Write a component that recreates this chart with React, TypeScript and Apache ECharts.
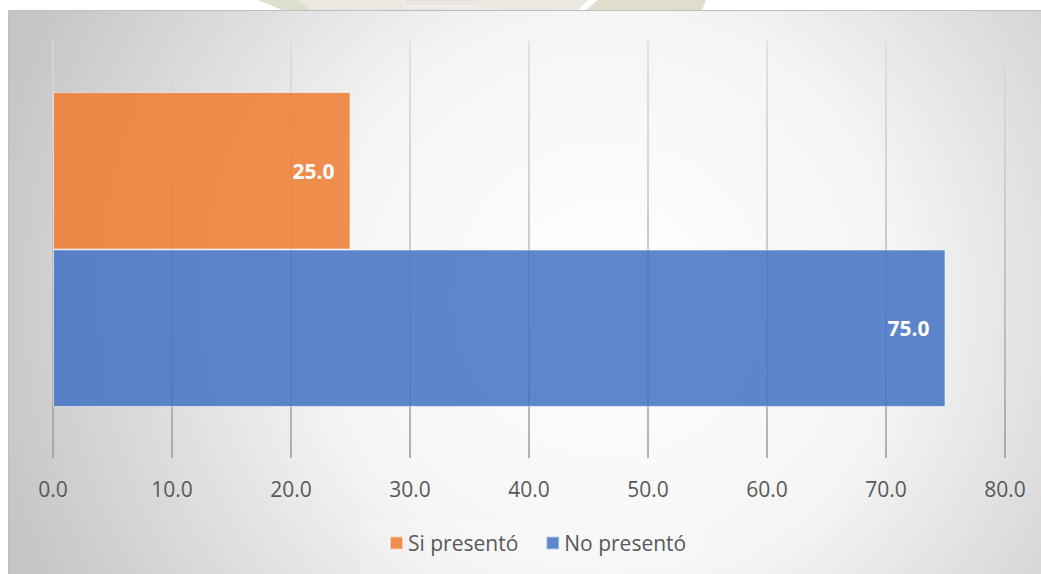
import React, { useEffect, useRef } from "react";
import * as echarts from "echarts";

// Single category, two series (percentages)
const categories = ["Total"];
const seriesNames = ["Si presentó", "No presentó"];
const siPresento = [25.0];
const noPresento = [75.0];
const xTicks = [0, 10, 20, 30, 40, 50, 60, 70, 80];

const FONT = "'Open Sans', 'DejaVu Sans', sans-serif";
const TEXT_GRAY = "#595959";

export default function App() {
  const ref = useRef<HTMLDivElement>(null);

  useEffect(() => {
    if (!ref.current) return;
    const chart = echarts.init(ref.current, undefined, { renderer: "svg" });

    const frameFill = new echarts.graphic.RadialGradient(
      610,
      300,
      640,
      [
        { offset: 0, color: "#FFFFFF" },
        { offset: 0.45, color: "#F5F5F5" },
        { offset: 1, color: "#C5C5C5" },
      ],
      true
    );

    const gridLineColor = new echarts.graphic.LinearGradient(
      0,
      41,
      0,
      458,
      [
        { offset: 0, color: "#DCDCDC" },
        { offset: 1, color: "#999999" },
      ],
      true
    );

    const option: echarts.EChartsOption = {
      animation: false,
      backgroundColor: "#FFFFFF",
      textStyle: { fontFamily: FONT },
      graphic: [
        // faint emblem peeking out above the frame
        {
          type: "polygon",
          z: -30,
          silent: true,
          shape: { points: [[258, 0], [298, 0], [312, 10], [282, 10]] },
          style: { fill: "#DEDECF" },
        },
        {
          type: "polygon",
          z: -30,
          silent: true,
          shape: { points: [[298, 0], [588, 0], [578, 10], [312, 10]] },
          style: { fill: "#EAE8E1" },
        },
        {
          type: "rect",
          z: -29,
          silent: true,
          shape: { x: 404, y: -3, width: 76, height: 9 },
          style: { fill: "#E7E5DE", stroke: "#F1F0EB", lineWidth: 1.5 },
        },
        {
          type: "polygon",
          z: -30,
          silent: true,
          shape: { points: [[598, 0], [706, 0], [702, 10], [586, 10]] },
          style: { fill: "#DFDECD" },
        },
        // chart frame with radial shading
        {
          type: "rect",
          z: -20,
          silent: true,
          shape: { x: 8.5, y: 10.5, width: 1040, height: 570 },
          style: { fill: frameFill, stroke: "#BEBEBE", lineWidth: 1 },
        },
        // legend backdrop
        {
          type: "rect",
          z: -10,
          silent: true,
          shape: { x: 362, y: 520, width: 341, height: 60 },
          style: { fill: "rgba(255,255,255,0.15)" },
        },
      ],
      grid: { left: 53, right: 36, top: 41, bottom: 116, containLabel: false },
      legend: {
        data: seriesNames,
        left: 389,
        top: 531,
        padding: 0,
        icon: "rect",
        itemWidth: 13,
        itemHeight: 13,
        itemGap: 27,
        textStyle: { fontSize: 21, color: TEXT_GRAY, fontFamily: FONT, lineHeight: 24 },
      },
      xAxis: {
        type: "value",
        min: xTicks[0],
        max: xTicks[xTicks.length - 1],
        interval: xTicks[1] - xTicks[0],
        axisLine: { show: false },
        axisTick: { show: false },
        axisLabel: {
          margin: 20,
          fontSize: 21,
          lineHeight: 21,
          color: TEXT_GRAY,
          fontFamily: FONT,
          formatter: (v: number) => v.toFixed(1),
        },
        splitLine: { show: true, lineStyle: { color: gridLineColor as any, width: 1.5 } },
      },
      yAxis: {
        type: "category",
        data: categories,
        inverse: true,
        axisLine: { show: false },
        axisTick: { show: false },
        axisLabel: { show: false },
        splitLine: { show: false },
      },
      series: [
        {
          name: seriesNames[0],
          type: "bar",
          data: siPresento,
          barGap: "0%",
          barCategoryGap: "24.5%",
          itemStyle: {
            color: "rgba(237,125,49,0.86)",
            borderColor: "rgba(255,255,255,0.55)",
            borderWidth: 1,
          },
          label: {
            show: true,
            position: "insideRight",
            distance: 16,
            color: "#FFFFFF",
            fontWeight: "bold",
            fontSize: 21,
            fontFamily: FONT,
            formatter: (p: any) => Number(p.value).toFixed(1),
          },
        },
        {
          name: seriesNames[1],
          type: "bar",
          data: noPresento,
          barGap: "0%",
          barCategoryGap: "24.5%",
          itemStyle: {
            color: "rgba(68,114,196,0.86)",
            borderColor: "rgba(255,255,255,0.55)",
            borderWidth: 1,
          },
          label: {
            show: true,
            position: "insideRight",
            distance: 16,
            color: "#FFFFFF",
            fontWeight: "bold",
            fontSize: 21,
            fontFamily: FONT,
            formatter: (p: any) => Number(p.value).toFixed(1),
          },
        },
      ],
    };

    chart.setOption(option);
    return () => chart.dispose();
  }, []);

  return (
    <div
      ref={ref}
      style={{ position: "fixed", left: 0, top: 0, width: 1041, height: 574 }}
    />
  );
}
